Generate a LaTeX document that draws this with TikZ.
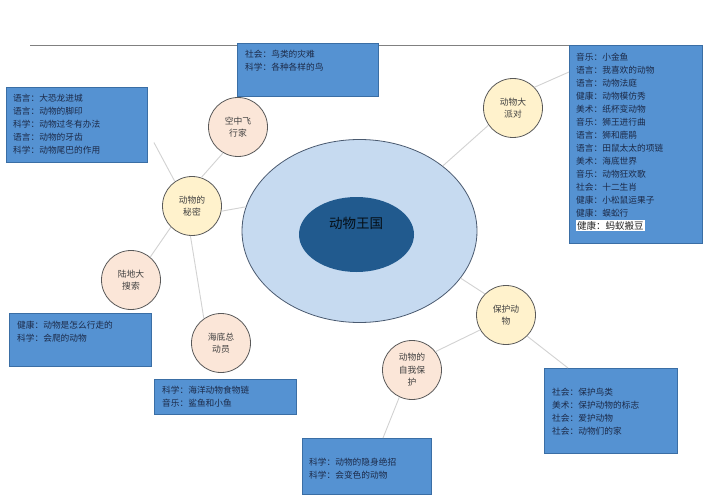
\documentclass[tikz,border=0pt]{standalone}
\usepackage{fontspec}
\newfontfamily\cjk{Noto Sans CJK SC}
\usetikzlibrary{shapes.geometric,calc}
\definecolor{boxfill}{HTML}{5592D2}
\definecolor{boxdraw}{HTML}{3A6EA5}
\definecolor{boxtext}{HTML}{1C2A48}
\definecolor{outerfill}{HTML}{C6DAF0}
\definecolor{outerdraw}{HTML}{4A5A70}
\definecolor{innerfill}{HTML}{215A8E}
\definecolor{yel}{HTML}{FFF2CC}
\definecolor{peach}{HTML}{FBE6D8}
\definecolor{conn}{HTML}{D2D2D2}
\tikzset{
  box/.style={draw=boxdraw, line width=0.9pt, fill=boxfill, rectangle, anchor=north west, inner sep=0pt},
  btext/.style={anchor=north west, inner sep=0pt, align=left, text=boxtext, font=\cjk\fontsize{8.7}{13}\selectfont},
  topic/.style={circle, draw=black!65, line width=0.8pt, minimum size=59pt, inner sep=0pt, align=center, text=black!75, font=\cjk\fontsize{8.8}{12.5}\selectfont},
  link/.style={draw=conn, line width=0.9pt},
}
\begin{document}
\begin{tikzpicture}[x=1pt,y=-1pt]
\useasboundingbox (0,0) rectangle (707,500);
\fill[white] (0,0) rectangle (707,500);
% top rule
\coordinate (ruleA) at (30,45.5);
\coordinate (ruleB) at (678,45.5);
\draw[black!50, line width=1pt] (ruleA) -- (ruleB);

% central ellipses
\node[ellipse, draw=outerdraw, line width=0.8pt, fill=outerfill, minimum width=235pt, minimum height=183pt, inner sep=0pt] (outer) at (359.5,231) {};
\node[ellipse, fill=innerfill, minimum width=115pt, minimum height=75pt, inner sep=0pt] (inner) at (356.5,234.5) {};
\node[text=black!85!innerfill, font=\cjk\fontsize{13.5}{15}\selectfont, inner sep=0pt] (title) at (356,223) {动物王国};

% boxes
\node[box, minimum width=141pt, minimum height=53pt] (tbox) at (237,43) {};
\node[btext] (tboxt) at ([shift={(8,6.5)}]tbox.north west) {社会：鸟类的灾难\\科学：各种各样的鸟};

\node[box, minimum width=141pt, minimum height=75pt] (lbox) at (6,87) {};
\node[btext] (lboxt) at ([shift={(7,6.5)}]lbox.north west) {语言：大恐龙进城\\语言：动物的脚印\\科学：动物过冬有办法\\语言：动物的牙齿\\科学：动物尾巴的作用};

\node[box, minimum width=133pt, minimum height=198pt] (rbox) at (569,45) {};
\node[btext] (rboxt) at ([shift={(7,7.5)}]rbox.north west) {音乐：小金鱼\\语言：我喜欢的动物\\语言：动物法庭\\健康：动物模仿秀\\美术：纸杯变动物\\音乐：狮王进行曲\\语言：狮和鹿鹃\\语言：田鼠太太的项链\\美术：海底世界\\音乐：动物狂欢歌\\社会：十二生肖\\健康：小松鼠运果子\\健康：蜈蚣行\\{\setlength{\fboxsep}{1pt}\colorbox{white}{\color{black!85}\fontsize{9.5}{13}\selectfont 健康：蚂蚁搬豆}}};

\node[box, minimum width=142pt, minimum height=53pt] (llbox) at (9,313) {};
\node[btext] (llboxt) at ([shift={(8,7.5)}]llbox.north west) {健康：动物是怎么行走的\\科学：会爬的动物};

\node[box, minimum width=142pt, minimum height=35pt] (obox) at (154,379) {};
\node[btext] (oboxt) at ([shift={(8,6.5)}]obox.north west) {科学：海洋动物食物链\\音乐：鲨鱼和小鱼};

\node[box, minimum width=133pt, minimum height=85pt] (pbox) at (544,368) {};
\node[btext] (pboxt) at ([shift={(8,19.5)}]pbox.north west) {社会：保护鸟类\\美术：保护动物的标志\\社会：爱护动物\\社会：动物们的家};

\node[box, minimum width=129pt, minimum height=56pt] (sbox) at (302,438) {};
\node[btext] (sboxt) at ([shift={(7,19.5)}]sbox.north west) {科学：动物的隐身绝招\\科学：会变色的动物};

% topic circles
\node[topic, fill=peach] (kz) at (238,127) {空中飞\\行家};
\node[topic, fill=yel] (pai) at (513,108) {动物大\\派对};
\node[topic, fill=yel] (mimi) at (192,206) {动物的\\秘密};
\node[topic, fill=peach] (lu) at (131,280) {陆地大\\搜索};
\node[topic, fill=peach] (hai) at (221,343) {海底总\\动员};
\node[topic, fill=yel] (bao) at (506,315) {保护动\\物};
\node[topic, fill=peach] (zi) at (412,370) {动物的\\自我保\\护};

% connectors
\coordinate (lboxc) at ([shift={(6,17.5)}]lbox.east);
\draw[link] (lboxc) -- (mimi.125);
\draw[link] (kz.240) -- (mimi.72);
\draw[link] (mimi.-10) -- (outer.168);
\draw[link] (mimi.225) -- (lu.50);
\draw[link] (mimi.267) -- (hai.125);
\draw[link] (pai.44) -- ([shift={(0,27)}]rbox.north west);
\draw[link] (pai.215) -- (outer.38);
\draw[link] (outer.-25) -- (bao.135);
\draw[link] (bao.210) -- (zi.38);
\draw[link] (bao.-45) -- ([shift={(24,0)}]pbox.north west);
\draw[link] (zi.245) -- ([shift={(81,0)}]sbox.north west);
\end{tikzpicture}
\end{document}
